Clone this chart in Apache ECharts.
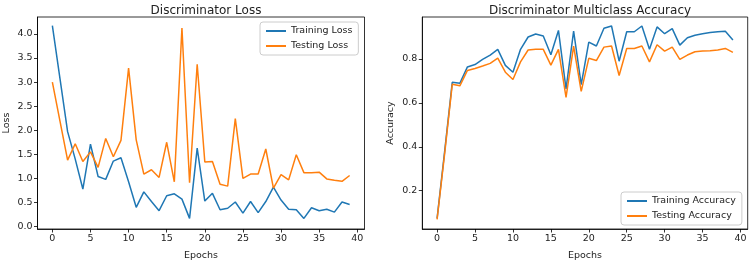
<!DOCTYPE html>
<html>
<head>
<meta charset="utf-8">
<script src="https://cdn.jsdelivr.net/npm/echarts@6/dist/echarts.min.js"></script>
<style>html,body{margin:0;padding:0;background:#fff;}#c{width:749px;height:262px;}</style>
</head>
<body>
<div id="c"></div>
<script>
const epochs = Array.from({length: 40}, (_, i) => i);
const trainingLoss = [4.17, 3.07, 1.97, 1.40, 0.78, 1.71, 1.04, 0.98, 1.36, 1.43,
  0.93, 0.40, 0.72, 0.52, 0.33, 0.64, 0.68, 0.57, 0.17, 1.63,
  0.53, 0.69, 0.35, 0.38, 0.51, 0.28, 0.52, 0.29, 0.52, 0.82,
  0.55, 0.36, 0.35, 0.17, 0.39, 0.33, 0.36, 0.30, 0.51, 0.46];
const testingLoss = [3.00, 2.19, 1.38, 1.72, 1.35, 1.55, 1.23, 1.83, 1.45, 1.79,
  3.29, 1.80, 1.09, 1.18, 1.02, 1.75, 0.93, 4.12, 0.91, 3.37,
  1.34, 1.35, 0.88, 0.84, 2.24, 1.00, 1.09, 1.09, 1.61, 0.80,
  1.08, 0.97, 1.49, 1.12, 1.12, 1.13, 0.99, 0.96, 0.94, 1.06];
const trainingAcc = [0.074, 0.38, 0.693, 0.689, 0.763, 0.774, 0.797, 0.817, 0.843, 0.770,
  0.739, 0.843, 0.899, 0.913, 0.904, 0.818, 0.929, 0.663, 0.926, 0.683,
  0.876, 0.858, 0.939, 0.949, 0.789, 0.923, 0.923, 0.949, 0.843, 0.945,
  0.914, 0.937, 0.862, 0.896, 0.907, 0.914, 0.919, 0.923, 0.925, 0.885];
const testingAcc = [0.070, 0.37, 0.684, 0.677, 0.747, 0.756, 0.767, 0.779, 0.803, 0.739,
  0.706, 0.786, 0.840, 0.843, 0.843, 0.771, 0.843, 0.625, 0.858, 0.652,
  0.802, 0.792, 0.853, 0.858, 0.724, 0.847, 0.847, 0.858, 0.786, 0.864,
  0.835, 0.853, 0.797, 0.817, 0.832, 0.835, 0.837, 0.840, 0.847, 0.829];
const xTicks = [0, 5, 10, 15, 20, 25, 30, 35, 40];
const lossTicks = [0, 0.5, 1.0, 1.5, 2.0, 2.5, 3.0, 3.5, 4.0];
const accTicks = [0.2, 0.4, 0.6, 0.8];

const BLUE = '#1f77b4', ORANGE = '#ff7f0e', TXT = '#222';
const tickFont = {fontFamily: 'DejaVu Sans', fontSize: 9.5, color: TXT};

function xAxisCfg(gi) {
  return {
    type: 'value', gridIndex: gi, min: -1.95, max: 40.95,
    name: 'Epochs', nameLocation: 'middle', nameGap: 22,
    nameTextStyle: {fontFamily: 'DejaVu Sans', fontSize: 9.5, color: TXT},
    axisLine: {show: true, onZero: false, lineStyle: {color: '#000', width: 0.8}},
    axisTick: {show: true, length: 3.5, customValues: xTicks, lineStyle: {color: '#000', width: 0.8}},
    axisLabel: Object.assign({customValues: xTicks, margin: 5}, tickFont),
    splitLine: {show: false}
  };
}
function yAxisCfg(gi, min, max, ticks, name, gap) {
  return {
    type: 'value', gridIndex: gi, min: min, max: max,
    name: name, nameLocation: 'middle', nameGap: gap,
    nameTextStyle: {fontFamily: 'DejaVu Sans', fontSize: 9.5, color: TXT},
    axisLine: {show: true, onZero: false, lineStyle: {color: '#000', width: 0.8}},
    axisTick: {show: true, length: 3.5, customValues: ticks, lineStyle: {color: '#000', width: 0.8}},
    axisLabel: Object.assign({customValues: ticks, margin: 5, formatter: v => v.toFixed(1)}, tickFont),
    splitLine: {show: false}
  };
}
function lineSeries(name, data, color, xi, yi) {
  return {
    type: 'line', name: name, xAxisIndex: xi, yAxisIndex: yi,
    data: epochs.map((e, i) => [e, data[i]]),
    symbol: 'none', showSymbol: false,
    lineStyle: {color: color, width: 1.5}, itemStyle: {color: color},
    animation: false
  };
}
const legendBase = {
  orient: 'vertical', icon: 'rect', itemWidth: 20, itemHeight: 2, itemGap: 5,
  backgroundColor: 'rgba(255,255,255,0.8)', borderColor: '#ccc', borderWidth: 1, borderRadius: 3,
  padding: [4, 6, 4, 6],
  textStyle: {fontFamily: 'DejaVu Sans', fontSize: 9.5, color: TXT}
};

const chart = echarts.init(document.getElementById('c'), null, {renderer: 'canvas'});
chart.setOption({
  animation: false,
  backgroundColor: '#fff',
  title: [
    {text: 'Discriminator Loss', left: 201, top: 0, textAlign: 'center',
     textStyle: {fontFamily: 'DejaVu Sans', fontSize: 12, fontWeight: 'normal', color: TXT}},
    {text: 'Discriminator Multiclass Accuracy', left: 585, top: 0, textAlign: 'center',
     textStyle: {fontFamily: 'DejaVu Sans', fontSize: 12, fontWeight: 'normal', color: TXT}}
  ],
  grid: [
    {left: 37.5, right: 384.5, top: 17, bottom: 33, containLabel: false, outerBoundsMode: 'none',
     show: true, borderColor: '#000', borderWidth: 0.8, backgroundColor: 'transparent'},
    {left: 422.3, right: 1.3, top: 17, bottom: 33, containLabel: false, outerBoundsMode: 'none',
     show: true, borderColor: '#000', borderWidth: 0.8, backgroundColor: 'transparent'}
  ],
  xAxis: [xAxisCfg(0), xAxisCfg(1)],
  yAxis: [
    yAxisCfg(0, -0.05, 4.35, lossTicks, 'Loss', 26),
    yAxisCfg(1, 0.026, 0.99, accTicks, 'Accuracy', 27)
  ],
  legend: [
    Object.assign({}, legendBase, {data: ['Training Loss', 'Testing Loss'], left: 260, top: 22}),
    Object.assign({}, legendBase, {data: ['Training Accuracy', 'Testing Accuracy'], left: 621, top: 192})
  ],
  series: [
    lineSeries('Training Loss', trainingLoss, BLUE, 0, 0),
    lineSeries('Testing Loss', testingLoss, ORANGE, 0, 0),
    lineSeries('Training Accuracy', trainingAcc, BLUE, 1, 1),
    lineSeries('Testing Accuracy', testingAcc, ORANGE, 1, 1)
  ]
});
</script>
</body>
</html>
